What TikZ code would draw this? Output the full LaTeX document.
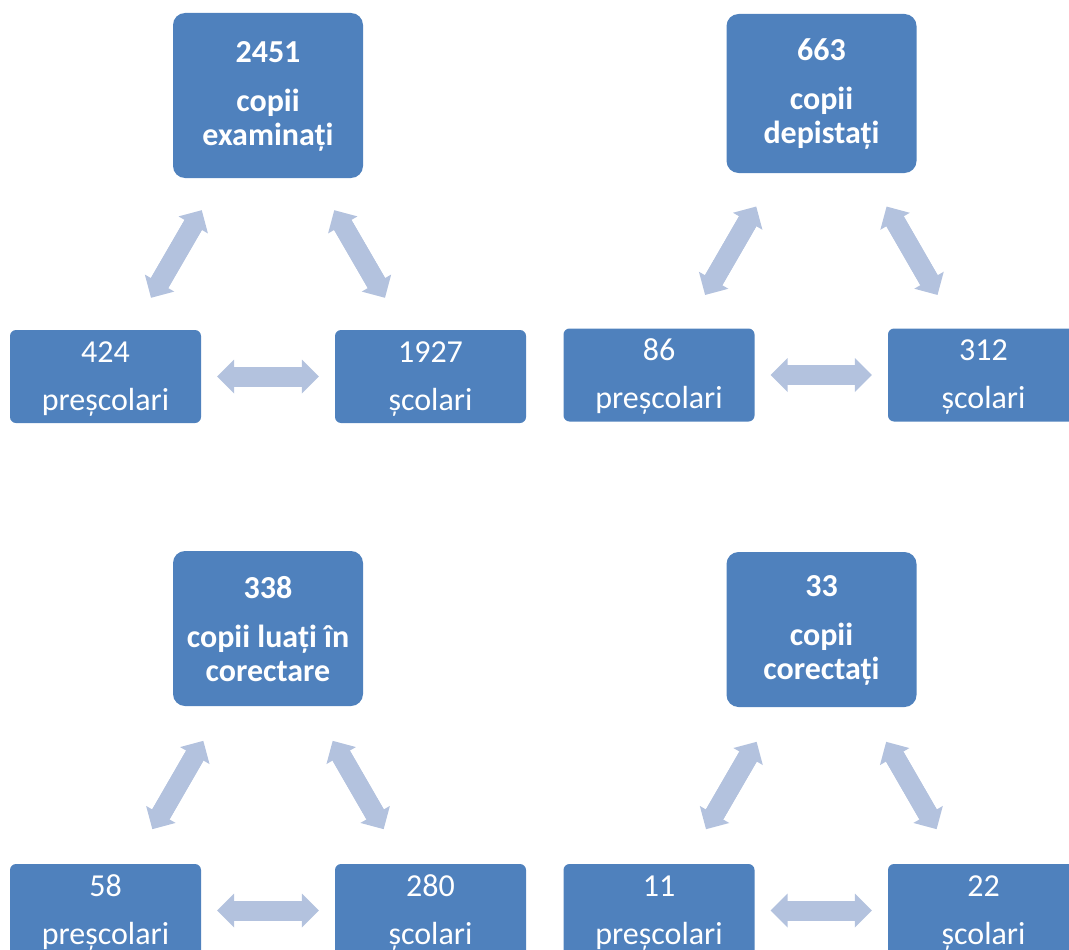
\documentclass[tikz,border=0pt]{standalone}
\usepackage{fontspec}
\setmainfont{Carlito}
\usetikzlibrary{arrows.meta}
\definecolor{boxc}{HTML}{4F81BD}
\definecolor{arrowc}{HTML}{B3C2DE}
\newcommand{\topstrut}{\rule{0pt}{23pt}}
\newcommand{\botstrut}{\rule{0pt}{25pt}}
\tikzset{
  topbox/.style={rectangle, rounded corners=12pt, fill=boxc, text=white,
    minimum width=190pt, inner sep=0pt, align=center,
    font=\fontsize{32}{34}\selectfont\bfseries},
  botbox/.style={rectangle, rounded corners=6pt, fill=boxc, text=white,
    minimum width=191pt, minimum height=93pt, inner sep=0pt, align=center,
    font=\fontsize{32}{34}\selectfont},
  dtip/.tip={Triangle[width=34pt 0 0,length=17pt 0 0,line width=0pt 0 0]},
  dbl/.style={draw=arrowc, line width=20pt, dtip-dtip, shorten <=#1, shorten >=#1,
    preaction={draw=arrowc, line width=20pt, arrows=-, shorten <=#1+16pt, shorten >=#1+16pt}}
}
\begin{document}
\begin{tikzpicture}[x=1pt,y=-1pt]
\useasboundingbox (0,0) rectangle (1069,950);
\clip (0,0) rectangle (1069,950);
% diagram 1
\node[topbox, minimum height=165pt] (t1) at (268,95.5) {\topstrut2451\\[15pt]copii\\examinați};
\node[botbox] (l1) at (105.5,376.5) {\botstrut424\\[14pt]preșcolari};
\node[botbox] (r1) at (430.5,376.5) {\botstrut1927\\[14pt]școlari};
\draw[dbl=37pt] (t1) -- (l1);
\draw[dbl=37pt] (t1) -- (r1);
\draw[dbl=16pt] (l1) -- (r1);
% diagram 2
\node[topbox, minimum height=159pt] (t2) at (821.5,93.5) {\topstrut663\\[15pt]copii\\depistați};
\node[botbox] (l2) at (659,375) {\botstrut86\\[14pt]preșcolari};
\node[botbox] (r2) at (983.5,375) {\botstrut312\\[14pt]școlari};
\draw[dbl=38.5pt] (t2) -- (l2);
\draw[dbl=38.5pt] (t2) -- (r2);
\draw[dbl=16pt] (l2) -- (r2);
% diagram 3
\node[topbox, minimum height=155pt] (t3) at (268,628.5) {\topstrut338\\[15pt]copii luați în\\corectare};
\node[botbox] (l3) at (105.5,910.5) {\botstrut58\\[14pt]preșcolari};
\node[botbox] (r3) at (430.5,910.5) {\botstrut280\\[14pt]școlari};
\draw[dbl=40pt] (t3) -- (l3);
\draw[dbl=40pt] (t3) -- (r3);
\draw[dbl=16pt] (l3) -- (r3);
% diagram 4
\node[topbox, minimum height=155pt] (t4) at (821.5,629.5) {\topstrut33\\[15pt]copii\\corectați};
\node[botbox] (l4) at (659,910.5) {\botstrut11\\[14pt]preșcolari};
\node[botbox] (r4) at (983.5,910.5) {\botstrut22\\[14pt]școlari};
\draw[dbl=40pt] (t4) -- (l4);
\draw[dbl=40pt] (t4) -- (r4);
\draw[dbl=16pt] (l4) -- (r4);
\end{tikzpicture}
\end{document}
